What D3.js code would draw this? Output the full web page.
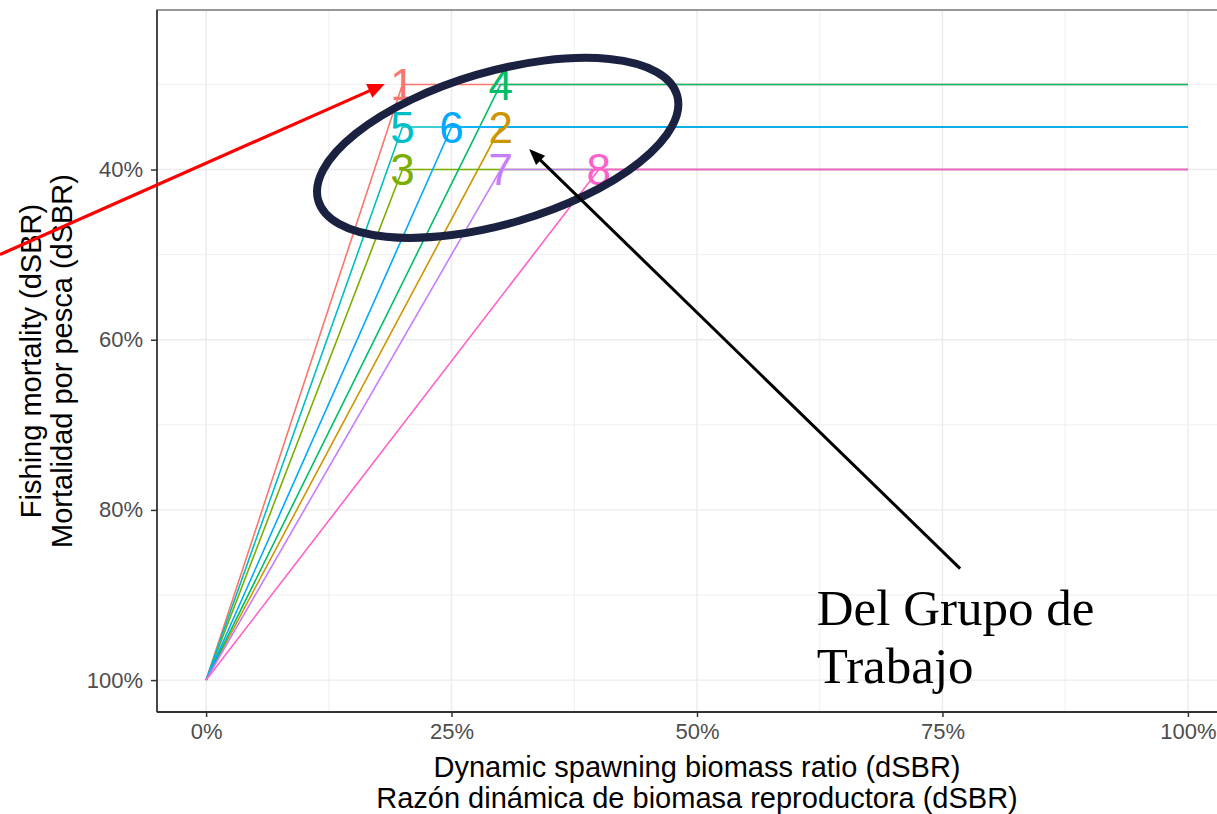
<!DOCTYPE html>
<html>
<head>
<meta charset="utf-8">
<script src="https://cdn.jsdelivr.net/npm/d3@7"></script>
<style>
  html, body { margin: 0; padding: 0; background: #ffffff; }
  svg { display: block; }
</style>
</head>
<body>
<svg id="chart" width="1217" height="814"></svg>
<script>
// Harvest control rules: each runs from (0 % dSBR, 100 % F) up to its breakpoint,
// then stays flat out to 100 % dSBR.
const ruleLabels    = ["1", "2", "3", "4", "5", "6", "7", "8"];
const breakpointSBR = [20, 30, 20, 30, 20, 25, 30, 40];   // x, % dSBR
const targetF       = [30, 35, 40, 30, 35, 35, 40, 40];   // y, % F (dSBR)
const originSBR = 0, originF = 100, endSBR = 100;
const ruleColors = ["#F8766D", "#CD9600", "#7CAE00", "#00BE67",
                    "#00BFC4", "#00A9FF", "#C77CFF", "#FF61CC"];

const xTicks = [0, 25, 50, 75, 100];
const xMinor = [12.5, 37.5, 62.5, 87.5];
const yTicks = [40, 60, 80, 100];
const yMinor = [30, 50, 70, 90];

const xTitle = ["Dynamic spawning biomass ratio (dSBR)",
                "Razón dinámica de biomasa reproductora (dSBR)"];
const yTitle = ["Fishing mortality (dSBR)",
                "Mortalidad por pesca (dSBR)"];
const noteLines = ["Del Grupo de", "Trabajo"];

// Annotation anchors in data units
const redArrow   = { from: [-21, 50.0], to: [18.2, 29.95] };
const blackArrow = { from: [76.8, 86.9], to: [32.9, 37.6] };
const ringCenter = [29.7, 37.45];
const noteAnchor = [62.2, 93.5];

const svg = d3.select("#chart");
const panel = { left: 157, top: 10, right: 1237, bottom: 712 };

const x = d3.scaleLinear().domain([-5, 105]).range([panel.left, panel.right]);
const y = d3.scaleLinear().domain([21.25, 103.75]).range([panel.top, panel.bottom]);

const sans = "'Liberation Sans', Arial, Helvetica, sans-serif";

// panel background + grid
svg.append("rect")
  .attr("x", panel.left).attr("y", panel.top)
  .attr("width", panel.right - panel.left).attr("height", panel.bottom - panel.top)
  .attr("fill", "#ffffff");

const grid = svg.append("g");
grid.selectAll(".xminor").data(xMinor).join("line")
  .attr("x1", d => x(d)).attr("x2", d => x(d))
  .attr("y1", panel.top).attr("y2", panel.bottom)
  .attr("stroke", "#ebebeb").attr("stroke-width", 0.8);
grid.selectAll(".yminor").data(yMinor).join("line")
  .attr("y1", d => y(d)).attr("y2", d => y(d))
  .attr("x1", panel.left).attr("x2", panel.right)
  .attr("stroke", "#ebebeb").attr("stroke-width", 0.8);
grid.selectAll(".xmajor").data(xTicks).join("line")
  .attr("x1", d => x(d)).attr("x2", d => x(d))
  .attr("y1", panel.top).attr("y2", panel.bottom)
  .attr("stroke", "#ebebeb").attr("stroke-width", 1.4);
grid.selectAll(".ymajor").data(yTicks).join("line")
  .attr("y1", d => y(d)).attr("y2", d => y(d))
  .attr("x1", panel.left).attr("x2", panel.right)
  .attr("stroke", "#ebebeb").attr("stroke-width", 1.4);

// rule lines
const line = d3.line().x(d => x(d[0])).y(d => y(d[1]));
const rules = ruleLabels.map((lab, i) => ({
  label: lab,
  color: ruleColors[i],
  pts: [[originSBR, originF], [breakpointSBR[i], targetF[i]], [endSBR, targetF[i]]]
}));

svg.append("g").selectAll("path").data(rules).join("path")
  .attr("d", d => line(d.pts))
  .attr("fill", "none")
  .attr("stroke", d => d.color)
  .attr("stroke-width", 1.6)
  .attr("stroke-linejoin", "round");

svg.append("g").selectAll("text").data(rules).join("text")
  .attr("x", d => x(d.pts[1][0]))
  .attr("y", d => y(d.pts[1][1]))
  .attr("dy", "0.36em")
  .attr("text-anchor", "middle")
  .attr("font-family", sans)
  .attr("font-size", 44)
  .attr("fill", d => d.color)
  .text(d => d.label);

// panel border and axes
svg.append("rect")
  .attr("x", panel.left).attr("y", panel.top)
  .attr("width", panel.right - panel.left).attr("height", panel.bottom - panel.top)
  .attr("fill", "none").attr("stroke", "#555555").attr("stroke-width", 1.2);

const xAxis = d3.axisBottom(x).tickValues(xTicks).tickFormat(d => d + "%")
  .tickSize(5).tickPadding(6);
const gx = svg.append("g").attr("transform", `translate(0,${panel.bottom})`).call(xAxis);
gx.select(".domain").remove();
gx.append("line").attr("x1", panel.left).attr("x2", panel.right)
  .attr("stroke", "#333333").attr("stroke-width", 2);
gx.selectAll(".tick line").attr("stroke", "#333333").attr("stroke-width", 1.5);
gx.selectAll(".tick text").attr("font-family", sans).attr("font-size", 22)
  .attr("fill", "#4d4d4d");

const yAxis = d3.axisLeft(y).tickValues(yTicks).tickFormat(d => d + "%")
  .tickSize(6).tickPadding(8);
const gy = svg.append("g").attr("transform", `translate(${panel.left},0)`).call(yAxis);
gy.select(".domain").remove();
gy.append("line").attr("y1", panel.top).attr("y2", panel.bottom)
  .attr("stroke", "#333333").attr("stroke-width", 1.6);
gy.selectAll(".tick line").attr("stroke", "#333333").attr("stroke-width", 1.5);
gy.selectAll(".tick text").attr("font-family", sans).attr("font-size", 22)
  .attr("fill", "#4d4d4d");

// axis titles
const xMid = (panel.left + panel.right) / 2;
svg.append("g").selectAll("text").data(xTitle).join("text")
  .attr("x", xMid)
  .attr("y", (d, i) => 777 + i * 31)
  .attr("text-anchor", "middle")
  .attr("font-family", sans).attr("font-size", 29)
  .attr("fill", "#000000")
  .text(d => d);

const yMid = (panel.top + panel.bottom) / 2;
svg.append("g").selectAll("text").data(yTitle).join("text")
  .attr("transform", (d, i) => `translate(${41 + i * 31},${yMid}) rotate(-90)`)
  .attr("text-anchor", "middle")
  .attr("font-family", sans).attr("font-size", 29)
  .attr("fill", "#000000")
  .text(d => d);

// annotations
function arrow(g, a, color, width, headLen, headHalf) {
  const x0 = x(a.from[0]), y0 = y(a.from[1]);
  const x1 = x(a.to[0]), y1 = y(a.to[1]);
  const ang = Math.atan2(y1 - y0, x1 - x0);
  const bx = x1 - headLen * Math.cos(ang), by = y1 - headLen * Math.sin(ang);
  g.append("line")
    .attr("x1", x0).attr("y1", y0)
    .attr("x2", bx + 2 * Math.cos(ang)).attr("y2", by + 2 * Math.sin(ang))
    .attr("stroke", color).attr("stroke-width", width);
  const px = -Math.sin(ang), py = Math.cos(ang);
  g.append("path")
    .attr("d", `M${x1},${y1}L${bx + headHalf * px},${by + headHalf * py}L${bx - headHalf * px},${by - headHalf * py}Z`)
    .attr("fill", color);
}

const notes = svg.append("g");
arrow(notes, redArrow, "#ff0000", 3.2, 17, 7.5);

notes.append("ellipse")
  .attr("cx", 0).attr("cy", 0).attr("rx", 187).attr("ry", 76)
  .attr("transform", `translate(${x(ringCenter[0])},${y(ringCenter[1])}) rotate(-16.4)`)
  .attr("fill", "none").attr("stroke", "#1b2140").attr("stroke-width", 8);

arrow(notes, blackArrow, "#000000", 3, 16, 6.5);

notes.append("g").selectAll("text").data(noteLines).join("text")
  .attr("x", x(noteAnchor[0]))
  .attr("y", (d, i) => y(noteAnchor[1]) + i * 58)
  .attr("font-family", "'Liberation Serif', 'Times New Roman', serif")
  .attr("font-size", 51)
  .attr("fill", "#000000")
  .text(d => d);
</script>
</body>
</html>
